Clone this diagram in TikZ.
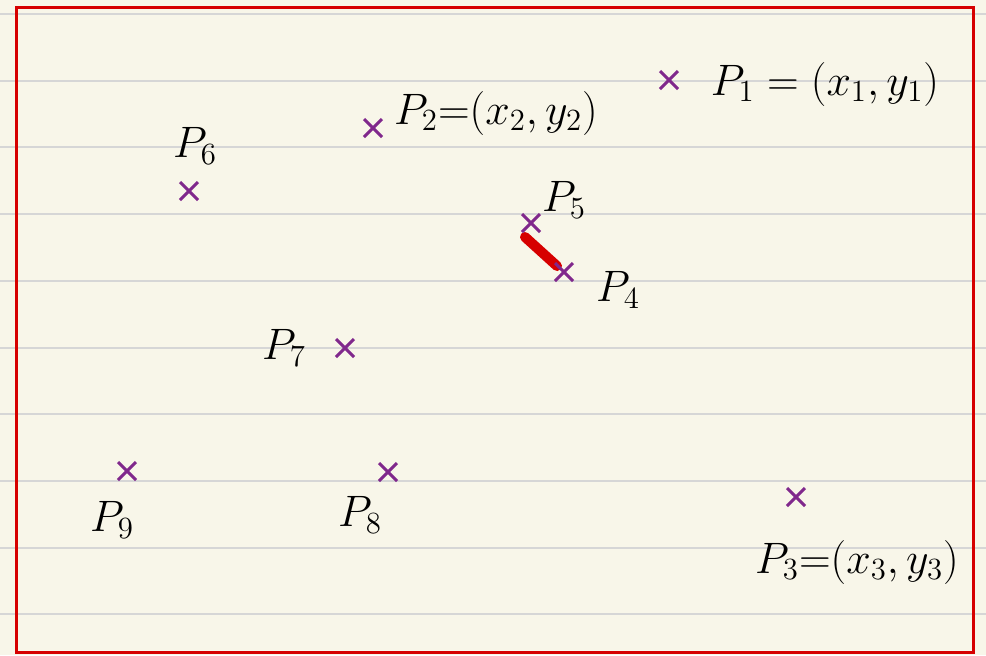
\documentclass[tikz,border=0pt]{standalone}
\usepackage{fix-cm}
\usetikzlibrary{shapes.misc}
\definecolor{paper}{RGB}{248,246,233}
\definecolor{rulegray}{RGB}{214,214,214}
\definecolor{framered}{RGB}{214,0,0}
\definecolor{penpurple}{RGB}{128,40,140}
\begin{document}
\begin{tikzpicture}[x=0.5pt, y=-0.5pt,
    pt/.style={cross out, draw=penpurple, line width=1.5pt, minimum size=7.5pt, inner sep=0pt},
    lbl/.style={font=\fontsize{22}{24}\selectfont, inner sep=0pt},
    seg/.style={draw=framered, line width=5pt, line cap=round}
]

    % paper
    \fill[paper] (0,0) rectangle (986,655);
    \useasboundingbox (0,0) rectangle (986,655);

    % ruled lines
    \foreach \i in {0,...,9}
        \draw[rulegray, line width=1pt] (0,{14+66.7*\i}) -- (986,{14+66.7*\i});

    % frame
    \draw[framered, line width=1.5pt] (16,7) rectangle (973,652);

    % red stroke between p5 and p4
    \coordinate (s1) at (525,237);
    \coordinate (s2) at (557,266);
    \draw[seg] (s1) -- (s2);

    % points
    \node[pt] (p1) at (669,80) {};
    \node[pt] (p2) at (373,128) {};
    \node[pt] (p3) at (796,497) {};
    \node[pt] (p4) at (564,272) {};
    \node[pt] (p5) at (531,223) {};
    \node[pt] (p6) at (189,191) {};
    \node[pt] (p7) at (345,348) {};
    \node[pt] (p8) at (388,472) {};
    \node[pt] (p9) at (127,471) {};

    % labels
    \node[lbl] (l1) at (825,84) {$P_1 = (x_1, y_1)$};
    \node[lbl] (l2) at (496,113) {$P_2{=}(x_2,y_2)$};
    \node[lbl] (l3) at (857,562) {$P_3{=}(x_3,y_3)$};
    \node[lbl] (l4) at (618,290) {$P_4$};
    \node[lbl] (l5) at (564,200) {$P_5$};
    \node[lbl] (l6) at (195,146) {$P_6$};
    \node[lbl] (l7) at (284,348) {$P_7$};
    \node[lbl] (l8) at (360,515) {$P_8$};
    \node[lbl] (l9) at (112,520) {$P_9$};

\end{tikzpicture}
\end{document}
